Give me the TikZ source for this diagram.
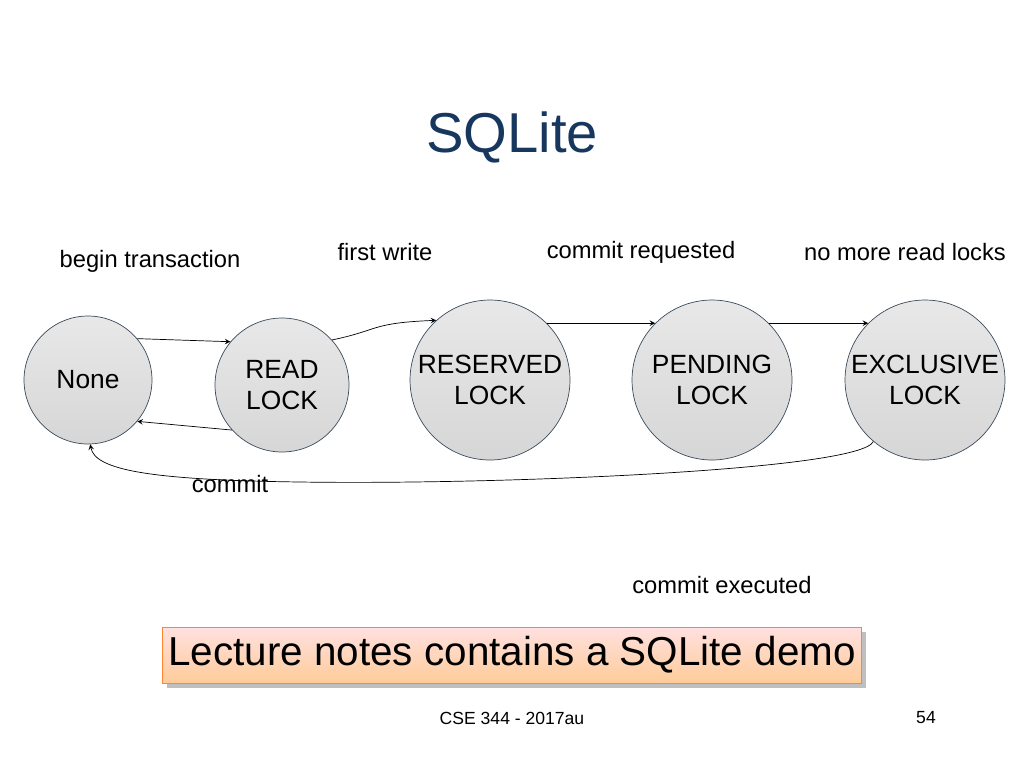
\documentclass[tikz,border=0pt]{standalone}
\usepackage{fontspec}
\setmainfont{Liberation Sans}
\usetikzlibrary{shadows}
\definecolor{ink}{HTML}{17375E}
\definecolor{rim}{HTML}{3B4B5B}
\tikzset{
	lock/.style={circle, draw=rim, thin, top color=gray!18, bottom color=gray!32,
		align=center, font=\fontsize{15}{18}\selectfont, inner sep=0pt},
	move/.style={->, >=stealth, thin},
	tag/.style={font=\fontsize{13.5}{16}\selectfont}
}
\begin{document}
\begin{tikzpicture}[x=0.02cm, y=-0.02cm]
	\useasboundingbox (0,0) rectangle (1024,768);

	\node[font=\fontsize{32}{38}\selectfont, text=ink] (title) at (512,137) {SQLite};

	\node[lock, minimum size=2.56cm] (none) at (88,380) {None};
	\node[lock, minimum size=2.68cm] (read) at (282,385) {READ\\LOCK};
	\node[lock, minimum size=3.2cm] (reserved) at (490,380) {RESERVED\\LOCK};
	\node[lock, minimum size=3.2cm] (pending) at (712,380) {PENDING\\LOCK};
	\node[lock, minimum size=3.2cm] (exclusive) at (925,380) {EXCLUSIVE\\LOCK};

	\node[tag] (begin) at (150,261) {begin transaction};
	\node[tag] (first) at (385,252) {first write};
	\node[tag] (request) at (641,252) {commit requested};
	\node[tag] (noread) at (905,252) {no more read locks};
	\node[tag] (commit) at (230,484) {commit};
	\node[tag] (executed) at (722,585) {commit executed};

	\draw[move] (none.40) -- (read.140);
	\draw[move] (read.42) .. controls (380,330) and (370,323) .. (reserved.132);
	\draw[move] (reserved.45) -- (pending.135);
	\draw[move] (pending.45) -- (exclusive.135);
	\draw[move] (read.222) -- (none.-40);
	\draw[move] (exclusive.-130) .. controls (860,470) and (500,485) .. (300,482)
		.. controls (150,480) and (95,470) .. (none.-88);

	\node[draw=orange!80!red!80, top color=red!12, bottom color=orange!40,
		drop shadow, minimum width=13.88cm, minimum height=1.12cm,
		font=\fontsize{23}{28}\selectfont] (demo) at (512,655) {Lecture notes contains a SQLite demo};

	\node[font=\fontsize{10}{12}\selectfont] (course) at (512,718) {CSE 344 - 2017au};
	\node[font=\fontsize{10}{12}\selectfont] (page) at (926,718) {54};
\end{tikzpicture}
\end{document}
